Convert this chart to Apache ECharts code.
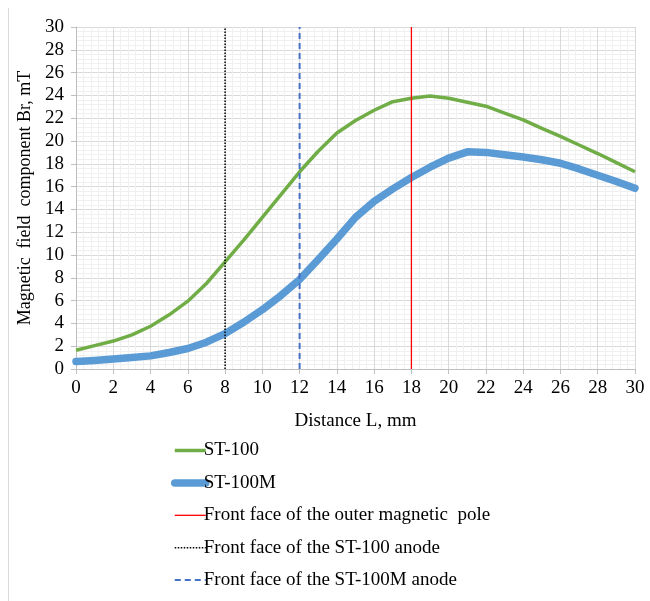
<!DOCTYPE html>
<html>
<head>
<meta charset="utf-8">
<script src="https://cdn.jsdelivr.net/npm/echarts@6/dist/echarts.min.js"></script>
<style>
html,body{margin:0;padding:0;background:#fff;}
#c{width:650px;height:601px;}
</style>
</head>
<body>
<div id="c"></div>
<script>
// Distance L, mm
const L = [0,1,2,3,4,5,6,7,8,9,10,11,12,13,14,15,16,17,18,19,20,21,22,23,24,25,26,27,28,29,30];
// ST-100, Br (mT)
const st100 = [1.65,2.05,2.45,3.0,3.75,4.75,5.95,7.5,9.4,11.3,13.3,15.3,17.3,19.1,20.7,21.8,22.7,23.45,23.75,23.95,23.75,23.4,23.05,22.45,21.85,21.1,20.4,19.65,18.9,18.1,17.3];
// ST-100M, Br (mT)
const st100m = [0.65,0.75,0.88,1.0,1.15,1.45,1.8,2.35,3.1,4.1,5.2,6.45,7.85,9.6,11.4,13.3,14.7,15.8,16.8,17.7,18.5,19.05,19.0,18.8,18.6,18.35,18.05,17.55,17.0,16.45,15.85];
// Reference positions (mm)
const polePos = 18;
const anodeST100 = 8;
const anodeST100M = 12;
const yRange = [0, 30];
const xTicks = {min: 0, max: 30, interval: 2};
const yTicks = {min: 0, max: 30, interval: 2};
const names = ['ST-100','ST-100M','Front face of the outer magnetic  pole','Front face of the ST-100 anode','Front face of the ST-100M anode'];

const font = '"Times New Roman", "Liberation Serif", serif';
const pair = (xs, ys) => xs.map((x, i) => [x, ys[i]]);
const vline = x => yRange.map(y => [x, y]);

const styles = [
  {color: '#70AD47', width: 3.5, type: 'solid', cap: 'butt'},
  {color: '#5B9BD5', width: 7.5, type: 'solid', cap: 'round'},
  {color: '#FF0000', width: 1.3, type: 'solid', cap: 'butt'},
  {color: '#000000', width: 1.5, type: [1.5, 1.5], cap: 'butt'},
  {color: '#4472C4', width: 2, type: [6, 4], cap: 'butt'}
];

const chart = echarts.init(document.getElementById('c'), null, {renderer: 'canvas'});
const axisCommon = {
  type: 'value',
  axisLine: {show: true, lineStyle: {color: '#BFBFBF', width: 1}},
  axisTick: {show: true, length: 5, lineStyle: {color: '#BFBFBF'}},
  axisLabel: {color: '#000', fontFamily: font, fontSize: 19},
  splitLine: {show: true, lineStyle: {color: '#D9D9D9', width: 1}},
  minorTick: {show: false, splitNumber: 5},
  minorSplitLine: {show: true, lineStyle: {color: '#F0F0F0', width: 1}},
  nameTextStyle: {color: '#000', fontFamily: font}
};
const seriesData = [pair(L, st100), pair(L, st100m), vline(polePos), vline(anodeST100), vline(anodeST100M)];
const zs = [3, 2, 4, 4, 4];
chart.setOption({
  animation: false,
  backgroundColor: '#fff',
  grid: {left: 76, right: 15, top: 27, bottom: 232, containLabel: false},
  xAxis: Object.assign({}, axisCommon, {
    min: xTicks.min, max: xTicks.max, interval: xTicks.interval,
    name: 'Distance L, mm', nameLocation: 'middle', nameGap: 43,
    nameTextStyle: {color: '#000', fontFamily: font, fontSize: 19},
    axisLabel: {color: '#000', fontFamily: font, fontSize: 19, margin: 10}
  }),
  yAxis: Object.assign({}, axisCommon, {
    min: yTicks.min, max: yTicks.max, interval: yTicks.interval,
    name: 'Magnetic  field  component Br, mT', nameLocation: 'middle', nameGap: 42,
    nameTextStyle: {color: '#000', fontFamily: font, fontSize: 18},
    axisLabel: {color: '#000', fontFamily: font, fontSize: 19, margin: 12}
  }),
  legend: {
    orient: 'vertical', left: 166, top: 436,
    itemWidth: 31, itemHeight: 14, itemGap: 13.4,
    itemStyle: {color: 'rgba(0,0,0,0)', borderColor: 'rgba(0,0,0,0)', borderWidth: 0},
    textStyle: {color: '#000', fontFamily: font, fontSize: 19, padding: [0,0,0,-7]},
    data: names.map((n, i) => ({name: n, lineStyle: {color: styles[i].color, width: styles[i].width, type: styles[i].type, cap: styles[i].cap}}))
  },
  graphic: [{type: 'line', shape: {x1: 8.5, y1: 8, x2: 8.5, y2: 601}, style: {stroke: '#D9D9D9', lineWidth: 1}}],
  series: names.map((n, i) => ({
    name: n, type: 'line', data: seriesData[i], symbol: 'none', smooth: false, z: zs[i],
    lineStyle: {color: styles[i].color, width: styles[i].width, type: styles[i].type, cap: styles[i].cap, join: 'round'},
    itemStyle: {color: styles[i].color}
  }))
});
</script>
</body>
</html>
